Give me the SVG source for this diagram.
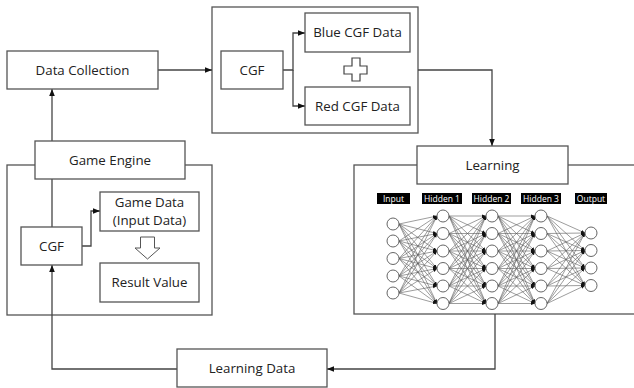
<svg xmlns="http://www.w3.org/2000/svg" xmlns:xlink="http://www.w3.org/1999/xlink" width="634" height="388" viewBox="0 0 634 388">
<style>
.box{fill:#fff;stroke:#555;stroke-width:1.3}
.cont{fill:none;stroke:#555;stroke-width:1.3}
.t{font-family:"Open Sans","Noto Sans",sans-serif;font-size:13.3px;fill:#222;text-anchor:middle}
.c{fill:none;stroke:#444;stroke-width:1.3}
.nd{fill:#fff;stroke:#555;stroke-width:0.9}
.lb{fill:#000}
.lt{font-family:"Open Sans","Noto Sans",sans-serif;font-size:8.5px;fill:#fff;text-anchor:middle}
</style>
<defs>
<marker id="ah" viewBox="0 0 10 10" refX="10" refY="5" markerWidth="7" markerHeight="7" markerUnits="userSpaceOnUse" orient="auto"><path d="M0,1 L10,5 L0,9 z" fill="#111"/></marker>
<marker id="sa" viewBox="0 0 10 10" refX="10" refY="5" markerWidth="4" markerHeight="4" markerUnits="userSpaceOnUse" orient="auto"><path d="M0,1 L10,5 L0,9 z" fill="#111"/></marker>
<g id="ih" stroke="#5a5a5a" stroke-width="0.6" marker-end="url(#sa)">
<line x1="0" y1="224" x2="38" y2="216"/><line x1="0" y1="224" x2="38" y2="233.5"/><line x1="0" y1="224" x2="38" y2="251"/><line x1="0" y1="224" x2="38" y2="268.5"/><line x1="0" y1="224" x2="38" y2="286"/><line x1="0" y1="224" x2="38" y2="303.5"/>
<line x1="0" y1="241" x2="38" y2="216"/><line x1="0" y1="241" x2="38" y2="233.5"/><line x1="0" y1="241" x2="38" y2="251"/><line x1="0" y1="241" x2="38" y2="268.5"/><line x1="0" y1="241" x2="38" y2="286"/><line x1="0" y1="241" x2="38" y2="303.5"/>
<line x1="0" y1="258.5" x2="38" y2="216"/><line x1="0" y1="258.5" x2="38" y2="233.5"/><line x1="0" y1="258.5" x2="38" y2="251"/><line x1="0" y1="258.5" x2="38" y2="268.5"/><line x1="0" y1="258.5" x2="38" y2="286"/><line x1="0" y1="258.5" x2="38" y2="303.5"/>
<line x1="0" y1="276" x2="38" y2="216"/><line x1="0" y1="276" x2="38" y2="233.5"/><line x1="0" y1="276" x2="38" y2="251"/><line x1="0" y1="276" x2="38" y2="268.5"/><line x1="0" y1="276" x2="38" y2="286"/><line x1="0" y1="276" x2="38" y2="303.5"/>
<line x1="0" y1="293" x2="38" y2="216"/><line x1="0" y1="293" x2="38" y2="233.5"/><line x1="0" y1="293" x2="38" y2="251"/><line x1="0" y1="293" x2="38" y2="268.5"/><line x1="0" y1="293" x2="38" y2="286"/><line x1="0" y1="293" x2="38" y2="303.5"/>
</g>
<g id="hh" stroke="#5a5a5a" stroke-width="0.6" marker-end="url(#sa)">
<line x1="0" y1="216" x2="37" y2="216"/><line x1="0" y1="216" x2="37" y2="233.5"/><line x1="0" y1="216" x2="37" y2="251"/><line x1="0" y1="216" x2="37" y2="268.5"/><line x1="0" y1="216" x2="37" y2="286"/><line x1="0" y1="216" x2="37" y2="303.5"/>
<line x1="0" y1="233.5" x2="37" y2="216"/><line x1="0" y1="233.5" x2="37" y2="233.5"/><line x1="0" y1="233.5" x2="37" y2="251"/><line x1="0" y1="233.5" x2="37" y2="268.5"/><line x1="0" y1="233.5" x2="37" y2="286"/><line x1="0" y1="233.5" x2="37" y2="303.5"/>
<line x1="0" y1="251" x2="37" y2="216"/><line x1="0" y1="251" x2="37" y2="233.5"/><line x1="0" y1="251" x2="37" y2="251"/><line x1="0" y1="251" x2="37" y2="268.5"/><line x1="0" y1="251" x2="37" y2="286"/><line x1="0" y1="251" x2="37" y2="303.5"/>
<line x1="0" y1="268.5" x2="37" y2="216"/><line x1="0" y1="268.5" x2="37" y2="233.5"/><line x1="0" y1="268.5" x2="37" y2="251"/><line x1="0" y1="268.5" x2="37" y2="268.5"/><line x1="0" y1="268.5" x2="37" y2="286"/><line x1="0" y1="268.5" x2="37" y2="303.5"/>
<line x1="0" y1="286" x2="37" y2="216"/><line x1="0" y1="286" x2="37" y2="233.5"/><line x1="0" y1="286" x2="37" y2="251"/><line x1="0" y1="286" x2="37" y2="268.5"/><line x1="0" y1="286" x2="37" y2="286"/><line x1="0" y1="286" x2="37" y2="303.5"/>
<line x1="0" y1="303.5" x2="37" y2="216"/><line x1="0" y1="303.5" x2="37" y2="233.5"/><line x1="0" y1="303.5" x2="37" y2="251"/><line x1="0" y1="303.5" x2="37" y2="268.5"/><line x1="0" y1="303.5" x2="37" y2="286"/><line x1="0" y1="303.5" x2="37" y2="303.5"/>
</g>
<g id="ho" stroke="#5a5a5a" stroke-width="0.6" marker-end="url(#sa)">
<line x1="0" y1="216" x2="38" y2="233"/><line x1="0" y1="216" x2="38" y2="250.5"/><line x1="0" y1="216" x2="38" y2="268"/><line x1="0" y1="216" x2="38" y2="285.5"/>
<line x1="0" y1="233.5" x2="38" y2="233"/><line x1="0" y1="233.5" x2="38" y2="250.5"/><line x1="0" y1="233.5" x2="38" y2="268"/><line x1="0" y1="233.5" x2="38" y2="285.5"/>
<line x1="0" y1="251" x2="38" y2="233"/><line x1="0" y1="251" x2="38" y2="250.5"/><line x1="0" y1="251" x2="38" y2="268"/><line x1="0" y1="251" x2="38" y2="285.5"/>
<line x1="0" y1="268.5" x2="38" y2="233"/><line x1="0" y1="268.5" x2="38" y2="250.5"/><line x1="0" y1="268.5" x2="38" y2="268"/><line x1="0" y1="268.5" x2="38" y2="285.5"/>
<line x1="0" y1="286" x2="38" y2="233"/><line x1="0" y1="286" x2="38" y2="250.5"/><line x1="0" y1="286" x2="38" y2="268"/><line x1="0" y1="286" x2="38" y2="285.5"/>
<line x1="0" y1="303.5" x2="38" y2="233"/><line x1="0" y1="303.5" x2="38" y2="250.5"/><line x1="0" y1="303.5" x2="38" y2="268"/><line x1="0" y1="303.5" x2="38" y2="285.5"/>
</g>
</defs>
<rect width="634" height="388" fill="#fff"/>

<!-- containers -->
<g id="cgf-group">
<rect class="cont" x="212" y="7" width="206" height="126"/>
</g>
<g id="game-engine-group">
<rect class="cont" x="7" y="165" width="205" height="150"/>
</g>
<g id="learning-group">
<rect class="cont" x="354" y="165" width="290" height="149"/>
</g>

<!-- connectors -->
<g id="connectors">
<path class="c" d="M158,70 H212" marker-end="url(#ah)"/>
<path class="c" d="M283,70 H293 V33 H305" marker-end="url(#ah)"/>
<path class="c" d="M293,70 V106 H305" marker-end="url(#ah)"/>
<path class="c" d="M418,70 H492 V146" marker-end="url(#ah)"/>
<path class="c" d="M495,314 V369 H327" marker-end="url(#ah)"/>
<path class="c" d="M177,369 H52 V265" marker-end="url(#ah)"/>
<path class="c" d="M52,141 V89" marker-end="url(#ah)"/>
<path class="c" d="M52,179 V227"/>
<path class="c" d="M82,246 H91 V211 H100" marker-end="url(#ah)"/>
</g>

<g id="data-collection">
<rect class="box" x="7" y="51" width="151" height="38"/>
<text class="t" x="82.5" y="74.5">Data Collection</text>
</g>
<g id="cgf-top">
<rect class="box" x="221" y="51" width="62" height="38"/>
<text class="t" x="252" y="74.5">CGF</text>
</g>
<g id="blue-cgf">
<rect class="box" x="305" y="13" width="105" height="39"/>
<text class="t" x="357.5" y="37">Blue CGF Data</text>
</g>
<g id="plus">
<polygon points="352,58 360,58 360,66 367,66 367,74 360,74 360,81 352,81 352,74 344,74 344,66 352,66" fill="#fff" stroke="#444" stroke-width="1.2"/>
</g>
<g id="red-cgf">
<rect class="box" x="305" y="87" width="105" height="38"/>
<text class="t" x="357.5" y="110.5">Red CGF Data</text>
</g>
<g id="learning">
<rect class="box" x="417" y="146" width="151" height="38"/>
<text class="t" x="492.5" y="169.5">Learning</text>
</g>
<g id="game-engine">
<rect class="box" x="35" y="141" width="150" height="38"/>
<text class="t" x="110" y="164.5">Game Engine</text>
</g>
<g id="cgf-engine">
<rect class="box" x="21" y="227" width="61" height="38"/>
<text class="t" x="51.5" y="250.5">CGF</text>
</g>
<g id="game-data">
<rect class="box" x="100" y="192" width="99" height="39"/>
<text class="t" x="149.5" y="206.5">Game Data</text>
<text class="t" x="149.5" y="224.5">(Input Data)</text>
</g>
<g id="down-arrow">
<polygon points="140.5,237 154.5,237 154.5,248 160,248 147.5,259 135,248 140.5,248" fill="#fff" stroke="#555" stroke-width="1"/>
</g>
<g id="result-value">
<rect class="box" x="100" y="263" width="99" height="39"/>
<text class="t" x="149.5" y="287">Result Value</text>
</g>
<g id="learning-data">
<rect class="box" x="177" y="349" width="150" height="38"/>
<text class="t" x="252" y="372.5">Learning Data</text>
</g>

<g id="neural-network">
<g>
<use xlink:href="#ih" transform="translate(399,0)"/>
<use xlink:href="#hh" transform="translate(449,0)"/>
<use xlink:href="#hh" transform="translate(498,0)"/>
<use xlink:href="#ho" transform="translate(547,0)"/>
</g>
<g>
<circle class="nd" cx="393" cy="224" r="6"/><circle class="nd" cx="393" cy="241" r="6"/><circle class="nd" cx="393" cy="258.5" r="6"/><circle class="nd" cx="393" cy="276" r="6"/><circle class="nd" cx="393" cy="293" r="6"/>
<circle class="nd" cx="443" cy="216" r="6"/><circle class="nd" cx="443" cy="233.5" r="6"/><circle class="nd" cx="443" cy="251" r="6"/><circle class="nd" cx="443" cy="268.5" r="6"/><circle class="nd" cx="443" cy="286" r="6"/><circle class="nd" cx="443" cy="303.5" r="6"/>
<circle class="nd" cx="492" cy="216" r="6"/><circle class="nd" cx="492" cy="233.5" r="6"/><circle class="nd" cx="492" cy="251" r="6"/><circle class="nd" cx="492" cy="268.5" r="6"/><circle class="nd" cx="492" cy="286" r="6"/><circle class="nd" cx="492" cy="303.5" r="6"/>
<circle class="nd" cx="541" cy="216" r="6"/><circle class="nd" cx="541" cy="233.5" r="6"/><circle class="nd" cx="541" cy="251" r="6"/><circle class="nd" cx="541" cy="268.5" r="6"/><circle class="nd" cx="541" cy="286" r="6"/><circle class="nd" cx="541" cy="303.5" r="6"/>
<circle class="nd" cx="591" cy="233" r="6"/><circle class="nd" cx="591" cy="250.5" r="6"/><circle class="nd" cx="591" cy="268" r="6"/><circle class="nd" cx="591" cy="285.5" r="6"/>
</g>
<g>
<rect class="lb" x="377" y="193" width="33" height="11"/><text class="lt" x="393.5" y="201.8">Input</text>
<rect class="lb" x="422" y="193" width="40" height="11"/><text class="lt" x="442" y="201.8">Hidden 1</text>
<rect class="lb" x="472" y="193" width="39" height="11"/><text class="lt" x="491.5" y="201.8">Hidden 2</text>
<rect class="lb" x="521" y="193" width="40" height="11"/><text class="lt" x="541" y="201.8">Hidden 3</text>
<rect class="lb" x="575" y="193" width="32" height="11"/><text class="lt" x="591" y="201.8">Output</text>
</g>
</g>
</svg>
